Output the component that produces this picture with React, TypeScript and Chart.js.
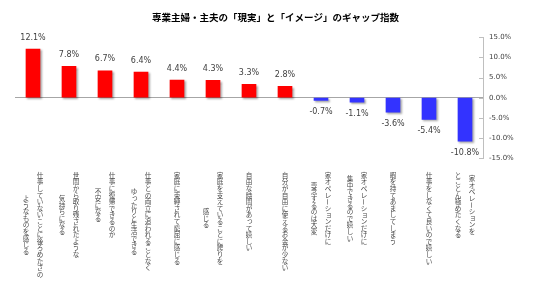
import React, { useEffect, useRef } from "react";
import { Chart, registerables } from "chart.js";

Chart.register(...registerables);

const TITLE = "専業主婦・主夫の「現実」と「イメージ」のギャップ指数";

const categories: string[][] = [
  ["仕事していないことに後ろめたさの", "ようなものを感じる"],
  ["世間から取り残されたような", "気持ちになる"],
  ["仕事に復帰できるのか", "不安になる"],
  ["仕事との両立に追われることなく", "ゆったりと生活できる"],
  ["家庭に束縛されて窮屈に感じる"],
  ["家庭を支えていることに誇りを", "感じる"],
  ["自由な時間があって嬉しい"],
  ["自分が自由に使えるお金が少ない"],
  ["家オペレーションだけに", "専念するのは大変"],
  ["家オペレーションだけに", "集中できるので嬉しい"],
  ["暇を持てあましてしまう"],
  ["仕事をしなくて良いので嬉しい"],
  ["家オペレーションを", "とことん極めたくなる"],
];

const gapValues: number[] = [12.1, 7.8, 6.7, 6.4, 4.4, 4.3, 3.3, 2.8, -0.7, -1.1, -3.6, -5.4, -10.8];

const yMin = -15;
const yMax = 15;
const yStep = 5;

const POS_COLOR = "#FF0000";
const NEG_COLOR = "#3333FF";

const SMALL_KANA = "ぁぃぅぇぉっゃゅょゎァィゥェォッャュョヮ";

const shadowPlugin = {
  id: "barShadow",
  beforeDatasetDraw(chart: any) {
    const ctx = chart.ctx;
    ctx.save();
    ctx.shadowColor = "rgba(0,0,0,0.35)";
    ctx.shadowOffsetX = 1.5;
    ctx.shadowOffsetY = 1.5;
    ctx.shadowBlur = 2;
  },
  afterDatasetDraw(chart: any) {
    chart.ctx.restore();
  },
};

const valueLabelPlugin = {
  id: "valueLabels",
  afterDatasetsDraw(chart: any) {
    const ctx = chart.ctx;
    const meta = chart.getDatasetMeta(0);
    ctx.save();
    ctx.font = "8px 'DejaVu Sans'";
    ctx.fillStyle = "#404040";
    ctx.textAlign = "center";
    ctx.textBaseline = "middle";
    meta.data.forEach((bar: any, i: number) => {
      const v = gapValues[i];
      const y = v >= 0 ? bar.y - 11.5 : bar.y + 11.5;
      ctx.fillText(v.toFixed(1) + "%", bar.x, y);
    });
    ctx.restore();
  },
};

const verticalLabelPlugin = {
  id: "verticalLabels",
  afterDraw(chart: any) {
    const ctx = chart.ctx;
    const xs = chart.scales.x;
    const pitch = 6.6;
    const colGap = 14;
    const top = 172;
    ctx.save();
    ctx.font = `${pitch}px 'Noto Sans CJK JP'`;
    ctx.fillStyle = "#4A4A4A";
    ctx.textAlign = "center";
    ctx.textBaseline = "middle";
    categories.forEach((lines, i) => {
      const cx = xs.getPixelForValue(i);
      const n = lines.length;
      const maxLen = Math.max(...lines.map((l) => Array.from(l).length));
      lines.forEach((line, j) => {
        const chars = Array.from(line);
        const colX = cx + ((n - 1) / 2 - j) * colGap;
        const start = top + ((maxLen - chars.length) * pitch) / 2;
        chars.forEach((ch, k) => {
          const cy = start + k * pitch + pitch / 2;
          if (ch === "ー") {
            ctx.save();
            ctx.translate(colX, cy);
            ctx.rotate(Math.PI / 2);
            ctx.fillText(ch, 0, 0);
            ctx.restore();
          } else if (SMALL_KANA.includes(ch)) {
            ctx.fillText(ch, colX + pitch * 0.12, cy - pitch * 0.12);
          } else {
            ctx.fillText(ch, colX, cy);
          }
        });
      });
    });
    ctx.restore();
  },
};

const innerTickPlugin = {
  id: "innerTicks",
  afterDraw(chart: any) {
    const ctx = chart.ctx;
    const ys = chart.scales.y;
    const right = chart.chartArea.right;
    ctx.save();
    ctx.strokeStyle = "#BFBFBF";
    ctx.lineWidth = 1;
    for (let v = yMin; v <= yMax; v += yStep) {
      const y = Math.round(ys.getPixelForValue(v)) + 0.5;
      ctx.beginPath();
      ctx.moveTo(right - 4, y);
      ctx.lineTo(right, y);
      ctx.stroke();
    }
    ctx.restore();
  },
};

export default function App() {
  const canvasRef = useRef<HTMLCanvasElement | null>(null);

  useEffect(() => {
    if (!canvasRef.current) return;
    const chart = new Chart(canvasRef.current, {
      type: "bar",
      data: {
        labels: categories.map((c) => c.join("")),
        datasets: [
          {
            data: gapValues,
            backgroundColor: gapValues.map((v) => (v >= 0 ? POS_COLOR : NEG_COLOR)),
            borderWidth: 0,
            barThickness: 14,
          },
        ],
      },
      options: {
        animation: false,
        responsive: true,
        maintainAspectRatio: false,
        layout: { padding: { left: 15, right: 0, top: 0, bottom: 126 } },
        plugins: {
          legend: { display: false },
          tooltip: { enabled: false },
          title: {
            display: true,
            text: TITLE,
            color: "#000000",
            font: { family: "'Noto Sans CJK JP'", size: 9.5, weight: "bold" },
            padding: { top: 12, bottom: 14 },
          },
        },
        scales: {
          x: {
            display: false,
          },
          y: {
            position: "right",
            min: yMin,
            max: yMax,
            afterFit(scale: any) {
              scale.width = 53;
            },
            border: { display: true, color: "#BFBFBF" },
            grid: {
              drawTicks: false,
              color: (c: any) => (c.tick && c.tick.value === 0 ? "#A6A6A6" : "rgba(0,0,0,0)"),
            },
            ticks: {
              stepSize: yStep,
              padding: 6,
              color: "#404040",
              font: { family: "'DejaVu Sans'", size: 7 },
              callback: (v: any) => Number(v).toFixed(1) + "%",
            },
          },
        },
      },
      plugins: [shadowPlugin, valueLabelPlugin, verticalLabelPlugin, innerTickPlugin],
    });
    return () => chart.destroy();
  }, []);

  return (
    <div style={{ position: "fixed", left: 0, top: 0, width: 536, height: 284, background: "#fff" }}>
      <canvas ref={canvasRef} />
    </div>
  );
}
